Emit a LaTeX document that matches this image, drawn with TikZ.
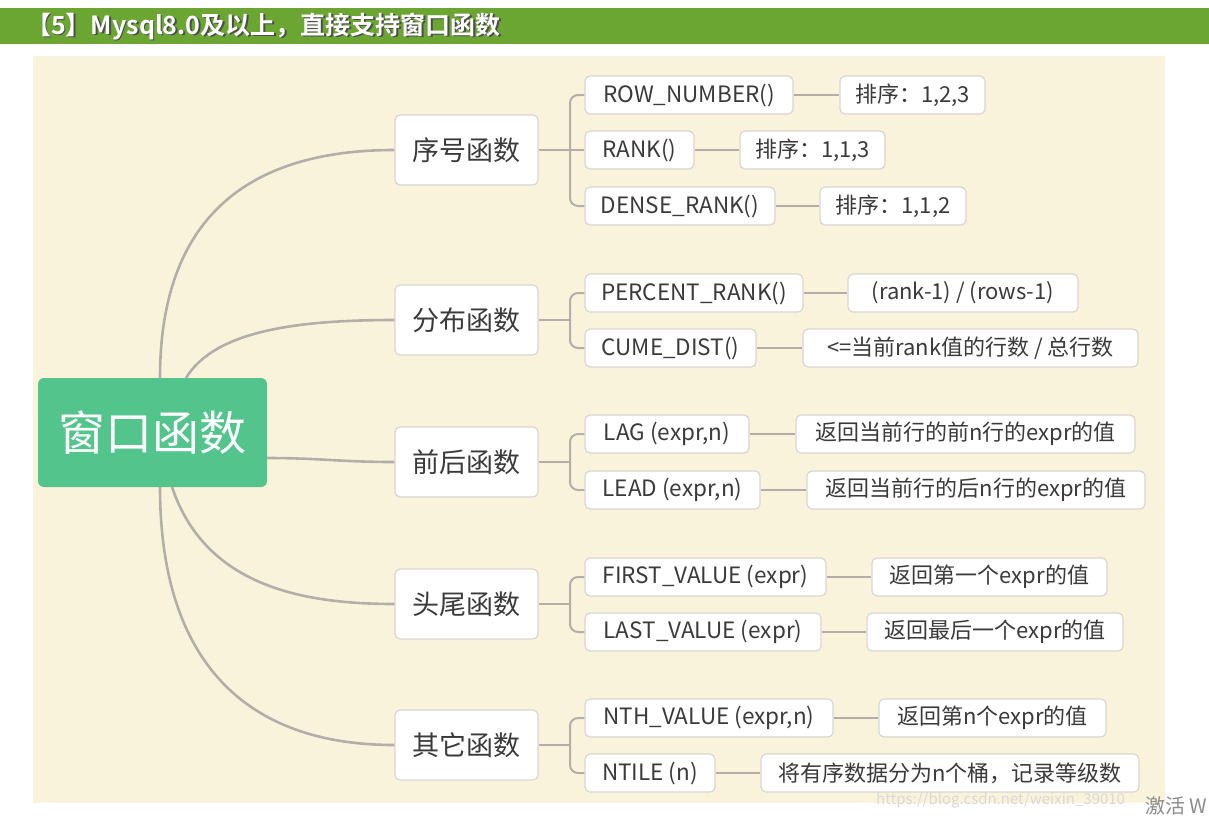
\documentclass[tikz,border=0pt]{standalone}
\usepackage{fontspec}
\setmainfont{Noto Sans CJK SC}
\newfontfamily\hdfont{Noto Sans CJK SC Bold}
\definecolor{hdgreen}{HTML}{6BA632}
\definecolor{cream}{HTML}{FAF3DC}
\definecolor{rootgreen}{HTML}{52C48C}
\definecolor{boxline}{HTML}{D9D6D0}
\definecolor{txt}{HTML}{3A3A3A}
\definecolor{wire}{HTML}{B3AFA8}
\tikzset{
  x=1pt,y=-1pt,
  box/.style={draw=boxline,line width=1.2pt,fill=white,rounded corners=5pt,text=txt,inner sep=0pt,align=center},
  lone/.style={box,minimum height=70pt,font=\fontsize{27}{30}\selectfont},
  ltwo/.style={box,minimum height=38pt,font=\fontsize{22.5}{26}\selectfont},
  lthree/.style={box,minimum height=38pt,font=\fontsize{22}{26}\selectfont},
  trunk/.style={wire,line width=2.6pt},
  twig/.style={wire,line width=2pt,rounded corners=8pt},
}
\begin{document}
\begin{tikzpicture}
\useasboundingbox (0,0) rectangle (1209,815);
\fill[white] (0,0) rectangle (1209,815);
\fill[hdgreen] (0,8) rectangle (1209,44);
\node[anchor=west,text=black!70,font=\hdfont\fontsize{25}{28}\selectfont,inner sep=0pt] (hds) at (27.5,28) {【5】Mysql8.0及以上，直接支持窗口函数};
\node[anchor=west,text=white,font=\hdfont\fontsize{25}{28}\selectfont,inner sep=0pt] (hd) at (26,26.5) {【5】Mysql8.0及以上，直接支持窗口函数};
\fill[cream] (33,56) rectangle (1165,803);

% root
\node[fill=rootgreen,rounded corners=6pt,minimum width=229pt,minimum height=109pt,text=white,font=\fontsize{47}{50}\selectfont,inner sep=0pt] (root) at (152.5,432.5) {窗口函数};

% level 1
\node[lone,minimum width=143pt] (a) at (466.5,150) {序号函数};
\node[lone,minimum width=143pt] (b) at (466.5,320) {分布函数};
\node[lone,minimum width=143pt] (c) at (466.5,462) {前后函数};
\node[lone,minimum width=143pt] (d) at (466.5,604) {头尾函数};
\node[lone,minimum width=143pt] (e) at (466.5,745) {其它函数};

% trunk curves
\draw[trunk] (160,378) .. controls (160,230) and (235,150) .. (a.west);
\draw[trunk] (186,378) .. controls (215,330) and (300,320) .. (b.west);
\draw[trunk] (root.east |- 0,458) .. controls (320,458) and (340,462) .. (c.west);
\draw[trunk] (172,487) .. controls (205,585) and (300,604) .. (d.west);
\draw[trunk] (160,487) .. controls (160,650) and (235,745) .. (e.west);

% level 2
\node[ltwo,minimum width=208pt] (a1) at (689,95) {ROW\_NUMBER()};
\node[ltwo,minimum width=109pt] (a2) at (639.5,150) {RANK()};
\node[ltwo,minimum width=190pt] (a3) at (680,206) {DENSE\_RANK()};
\node[ltwo,minimum width=218pt] (b1) at (694,293) {PERCENT\_RANK()};
\node[ltwo,minimum width=171pt] (b2) at (670.5,348) {CUME\_DIST()};
\node[ltwo,minimum width=164pt] (c1) at (667,434) {LAG (expr,n)};
\node[ltwo,minimum width=175pt] (c2) at (672.5,490) {LEAD (expr,n)};
\node[ltwo,minimum width=241pt] (d1) at (705.5,577) {FIRST\_VALUE (expr)};
\node[ltwo,minimum width=236pt] (d2) at (703,632) {LAST\_VALUE (expr)};
\node[ltwo,minimum width=248pt] (e1) at (709,718) {NTH\_VALUE (expr,n)};
\node[ltwo,minimum width=130pt] (e2) at (650,773) {NTILE (n)};

% junctions
\coordinate (ja) at (570,150);
\coordinate (jb) at (570,320);
\coordinate (jc) at (570,462);
\coordinate (jd) at (570,604);
\coordinate (je) at (570,745);
\draw[twig] (a.east) -- (ja);
\draw[twig] (b.east) -- (jb);
\draw[twig] (c.east) -- (jc);
\draw[twig] (d.east) -- (jd);
\draw[twig] (e.east) -- (je);
\draw[twig] (ja) |- (a1.west);
\draw[twig] (ja) -- (a2.west);
\draw[twig] (ja) |- (a3.west);
\draw[twig] (jb) |- (b1.west);
\draw[twig] (jb) |- (b2.west);
\draw[twig] (jc) |- (c1.west);
\draw[twig] (jc) |- (c2.west);
\draw[twig] (jd) |- (d1.west);
\draw[twig] (jd) |- (d2.west);
\draw[twig] (je) |- (e1.west);
\draw[twig] (je) |- (e2.west);

% level 3
\node[lthree,minimum width=145pt] (a1x) at (912.5,95) {排序：1,2,3};
\node[lthree,minimum width=145pt] (a2x) at (812.5,150) {排序：1,1,3};
\node[lthree,minimum width=146pt] (a3x) at (893,206) {排序：1,1,2};
\node[lthree,minimum width=230pt] (b1x) at (963,293) {(rank-1) / (rows-1)};
\node[lthree,minimum width=335pt] (b2x) at (970.5,348) {<=当前rank值的行数 / 总行数};
\node[lthree,minimum width=339pt] (c1x) at (965.5,434) {返回当前行的前n行的expr的值};
\node[lthree,minimum width=338pt] (c2x) at (976,490) {返回当前行的后n行的expr的值};
\node[lthree,minimum width=235pt] (d1x) at (989.5,577) {返回第一个expr的值};
\node[lthree,minimum width=256pt] (d2x) at (995,632) {返回最后一个expr的值};
\node[lthree,minimum width=227pt] (e1x) at (992.5,718) {返回第n个expr的值};
\node[lthree,minimum width=378pt] (e2x) at (950,773) {将有序数据分为n个桶，记录等级数};

\foreach \s in {a1,a2,a3,b1,b2,c1,c2,d1,d2,e1,e2}
  \draw[twig] (\s.east) -- (\s x.west);

% watermarks
\node[anchor=west,text=black!15,font=\fontsize{15}{17}\selectfont,inner sep=0pt] (wm) at (876,800) {https://blog.csdn.net/weixin\_39010};
\node[anchor=west,text=black!45,font=\fontsize{20}{22}\selectfont,inner sep=0pt] (act) at (1145,806) {激活 W};
\end{tikzpicture}
\end{document}
